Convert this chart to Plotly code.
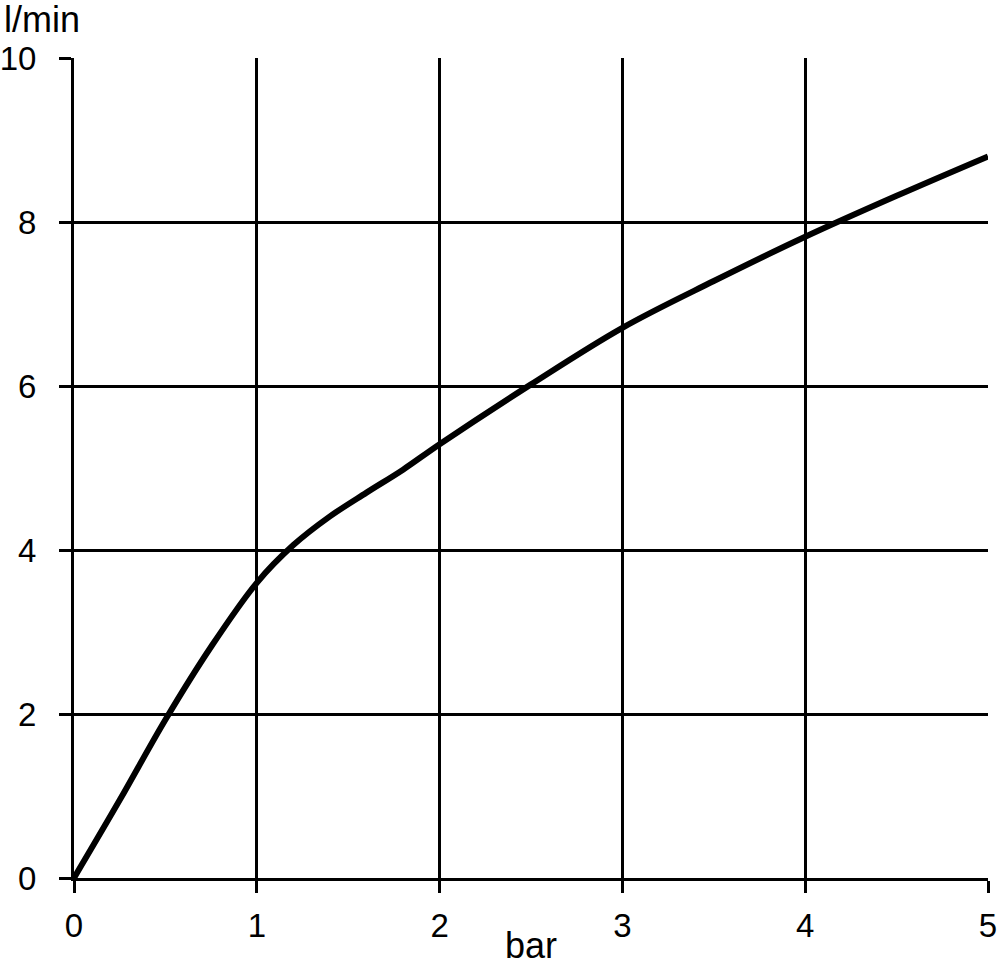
import plotly.graph_objects as go

# flow rate vs pressure
pressure_bar = [0, 0.25, 0.5, 0.75, 1.0, 1.2, 1.4, 1.6, 1.8, 2.0, 2.5, 3.0, 3.5, 4.0, 4.5, 5.0]
flow_lpm = [0, 0.95, 1.93, 2.82, 3.6, 4.06, 4.41, 4.7, 4.98, 5.29, 6.02, 6.71, 7.28, 7.82, 8.32, 8.8]

x_ticks = [0, 1, 2, 3, 4, 5]
y_ticks = [0, 2, 4, 6, 8, 10]

font_family = "Liberation Sans, Arial, sans-serif"

fig_w, fig_h = 1000, 965
plot_w, plot_h = 914, 820

fig = go.Figure()
fig.add_trace(go.Scatter(x=pressure_bar, y=flow_lpm, mode="lines",
                         line=dict(color="black", width=6, shape="spline", smoothing=1.0),
                         showlegend=False))

axis_common = dict(showgrid=True, gridcolor="black", gridwidth=3,
                   showline=True, linecolor="black", linewidth=3,
                   ticks="outside", ticklen=12, tickwidth=3, tickcolor="black",
                   zeroline=False, automargin=False,
                   tickfont=dict(size=33, color="black"))

fig.update_layout(
    width=fig_w, height=fig_h,
    margin=dict(l=74, r=12, t=58, b=87),
    paper_bgcolor="white", plot_bgcolor="white",
    font=dict(family=font_family, color="black"),
    xaxis=dict(range=[0, 5], tickvals=x_ticks, ticklabelstandoff=4, **axis_common),
    yaxis=dict(range=[0, 10], tickvals=y_ticks, ticklabelstandoff=16, **axis_common),
    annotations=[
        dict(text="l/min", xref="paper", yref="paper", x=-72 / plot_w, y=1 + 38 / plot_h,
             xanchor="left", yanchor="middle", showarrow=False, font=dict(size=36)),
        dict(text="bar", xref="paper", yref="paper", x=0.5, y=-67 / plot_h,
             xanchor="center", yanchor="middle", showarrow=False, font=dict(size=36)),
    ],
)

# drop the browser's default 8px body margin so the figure sits at the page corner
fig.write_html("out.html", config={"displayModeBar": False},
               post_script="document.body.style.margin='0';")
